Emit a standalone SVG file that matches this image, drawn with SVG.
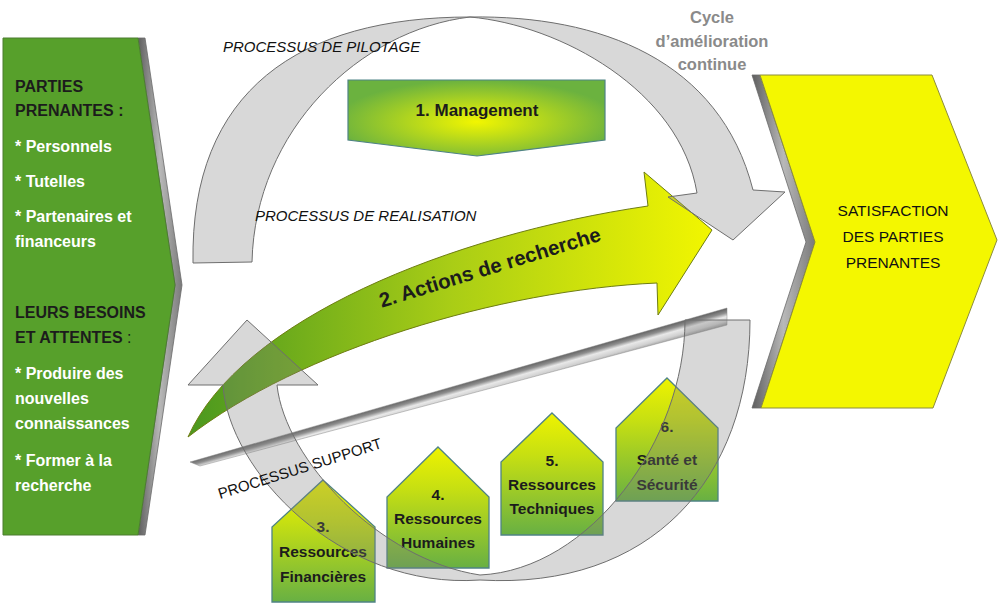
<svg xmlns="http://www.w3.org/2000/svg" width="1000" height="608" viewBox="0 0 1000 608">
<defs>
<style>
.t{font-family:"Liberation Sans",Arial,sans-serif}
.b{font-weight:bold}
.dk{fill:#1c1c1c}
.wh{fill:#ffffff}
.band{fill:#7d7d7d;fill-opacity:0.3;stroke:#6e6e6e;stroke-width:1}
.house{fill:url(#houseGrad);stroke:#4f8385;stroke-width:1.3}
.ht{font-family:"Liberation Sans",Arial,sans-serif;font-weight:bold;font-size:15.5px;fill:#1c1c1c;text-anchor:middle}
.proc{font-family:"Liberation Sans",Arial,sans-serif;font-size:15px;fill:#111}
</style>
<linearGradient id="houseGrad" x1="0" y1="0" x2="0" y2="1">
<stop offset="0" stop-color="#eef300"/>
<stop offset="0.35" stop-color="#c6df12"/>
<stop offset="1" stop-color="#68b043"/>
</linearGradient>
<radialGradient id="mgmtGrad" cx="0.5" cy="0.55" r="0.55">
<stop offset="0" stop-color="#f2f600"/>
<stop offset="1" stop-color="#6bb23f"/>
</radialGradient>
<linearGradient id="actGrad" gradientUnits="userSpaceOnUse" x1="190" y1="0" x2="712" y2="0">
<stop offset="0" stop-color="#4b981f"/>
<stop offset="0.5" stop-color="#a9cd16"/>
<stop offset="1" stop-color="#f2f600"/>
</linearGradient>
<linearGradient id="barGrad" gradientUnits="userSpaceOnUse" x1="460" y1="384.6" x2="464.1" y2="399">
<stop offset="0" stop-color="#666"/>
<stop offset="0.25" stop-color="#8e8e8e"/>
<stop offset="0.5" stop-color="#e8e8e8"/>
<stop offset="0.8" stop-color="#d0d0d0"/>
<stop offset="1" stop-color="#a5a5a5"/>
</linearGradient>
<linearGradient id="shadowGrad" x1="0" y1="0" x2="1" y2="0">
<stop offset="0" stop-color="#5e5e5e"/>
<stop offset="0.5" stop-color="#b8b8b8"/>
<stop offset="1" stop-color="#7a7a7a"/>
</linearGradient>
</defs>
<rect width="1000" height="608" fill="#ffffff"/>

<g id="left-panel">
<polygon points="138,38 145,38 182,285 145,535 138,535 175,285" fill="url(#shadowGrad)" stroke="#6a6a6a" stroke-width="0.8"/>
<polygon points="3,38 138,38 175,285 138,535 3,535" fill="#57a02b" stroke="#4c7d30" stroke-width="1"/>
<g class="t b" font-size="16">
<text x="15" y="92" class="dk">PARTIES</text>
<text x="15" y="116" class="dk">PRENANTES :</text>
<text x="15" y="152" class="wh">* Personnels</text>
<text x="15" y="187" class="wh">* Tutelles</text>
<text x="15" y="222" class="wh">* Partenaires et</text>
<text x="15" y="247" class="wh">financeurs</text>
<text x="15" y="318" class="dk">LEURS BESOINS</text>
<text x="15" y="343" class="dk">ET ATTENTES <tspan font-weight="normal">:</tspan></text>
<text x="15" y="379" class="wh">* Produire des</text>
<text x="15" y="404" class="wh">nouvelles</text>
<text x="15" y="429" class="wh">connaissances</text>
<text x="15" y="466" class="wh">* Former à la</text>
<text x="15" y="491" class="wh">recherche</text>
</g>
</g>

<g id="right-panel">
<polygon points="752,75 760,75 815,242 761,408 752,408 806,242" fill="url(#shadowGrad)" stroke="#6a6a6a" stroke-width="0.8"/>
<polygon points="760,75 932,75 997,240 933,408 761,408 815,242" fill="#f4f700" stroke="#8c8c3c" stroke-width="1"/>
<g class="t" font-size="15.5" fill="#111" text-anchor="middle">
<text x="893" y="216">SATISFACTION</text>
<text x="893" y="242">DES PARTIES</text>
<text x="893" y="268">PRENANTES</text>
</g>
</g>

<g id="management">
<polygon points="348,80 605,80 605,140 477,156 348,140" fill="url(#mgmtGrad)" stroke="#4f8385" stroke-width="1.2"/>
<text x="477" y="116" class="t b dk" font-size="17" text-anchor="middle">1. Management</text>
</g>

<g id="house-3">
<polygon class="house" points="323,480 375,527 375,602 272,602 272,527"/>
<text class="ht" x="323" y="532">3.</text>
<text class="ht" x="323" y="557">Ressources</text>
<text class="ht" x="323" y="582">Financières</text>
</g>
<g id="house-4">
<polygon class="house" points="438,447 489,497 489,568 387,568 387,497"/>
<text class="ht" x="438" y="500">4.</text>
<text class="ht" x="438" y="524">Ressources</text>
<text class="ht" x="438" y="548">Humaines</text>
</g>
<g id="house-5">
<polygon class="house" points="552,413 603,462 603,535 501,535 501,462"/>
<text class="ht" x="552" y="466">5.</text>
<text class="ht" x="552" y="490">Ressources</text>
<text class="ht" x="552" y="514">Techniques</text>
</g>
<g id="house-6">
<polygon class="house" points="667,378 718,428 718,501 616,501 616,428"/>
<text class="ht" x="667" y="432">6.</text>
<text class="ht" x="667" y="465">Santé et</text>
<text class="ht" x="667" y="490">Sécurité</text>
</g>

<g id="actions-recherche">
<path d="M188,437 C240,320 450,235 648,206 L644,172 L712,230 L658,315 L657,283 C500,290 300,350 188,437 Z" fill="url(#actGrad)" stroke="#6e7d12" stroke-width="1"/>
<text class="t b dk" font-size="20.5" text-anchor="middle" x="492" y="274" transform="rotate(-17 492 274)">2. Actions de recherche</text>
</g>

<g id="connectors">
<polygon id="support-bar" points="190,462 727,308 727,325 200,466" fill="url(#barGrad)" stroke="#8a8a8a" stroke-width="0.5"/>
<path id="cycle-pilotage" class="band" d="M193,263 C190,90 300,17 470,17 C600,15 720,60 753,190 L785,192 L733,240 L668,197 L697,193 C680,90 560,25 470,17 C360,30 255,130 252,262 Z"/>
<path id="cycle-support" class="band" d="M247,320 L318,385 L277,385 C285,460 380,560 480,575 C590,570 685,440 685,320 L750,320 C750,480 650,590 480,580 C340,590 228,470 223,385 L188,385 Z"/>
</g>

<g id="labels">
<text class="proc" font-style="italic" x="223" y="52">PROCESSUS DE PILOTAGE</text>
<text class="proc" font-style="italic" x="255" y="221">PROCESSUS DE REALISATION</text>
<text class="proc" x="220" y="499" transform="rotate(-17.5 220 499)">PROCESSUS SUPPORT</text>
<g class="t b" font-size="16.5" fill="#8a8a8a" text-anchor="middle">
<text x="712" y="23">Cycle</text>
<text x="712" y="47">d’amélioration</text>
<text x="712" y="70">continue</text>
</g>
</g>
</svg>
